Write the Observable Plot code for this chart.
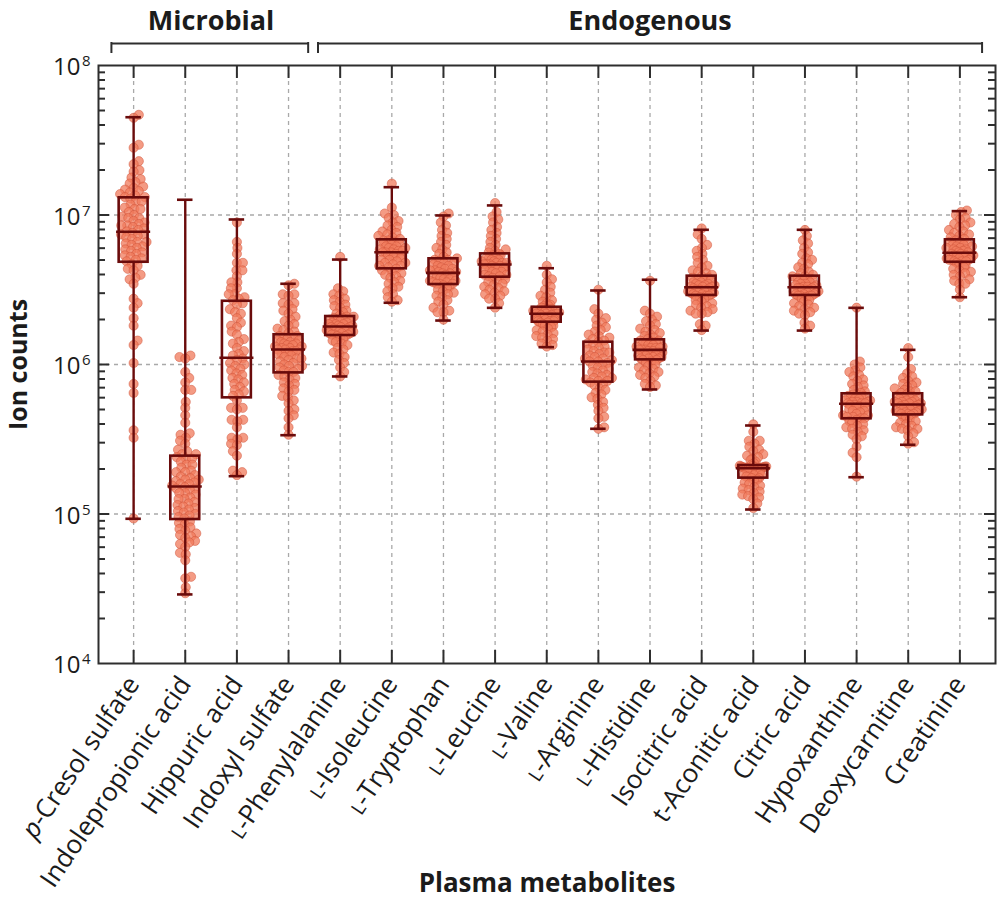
<!DOCTYPE html>
<html>
<head>
<meta charset="utf-8">
<script src="https://cdn.jsdelivr.net/npm/d3@7"></script>
<script src="https://cdn.jsdelivr.net/npm/@observablehq/plot@0.6"></script>
<style>
  html, body { margin: 0; padding: 0; background: #ffffff; }
  #chart { width: 1000px; height: 903px; }
</style>
</head>
<body>
<div id="chart"></div>
<script>
// ---------------- data (log10 of ion counts) ----------------
const metabolites = [
  "p-Cresol sulfate", "Indolepropionic acid", "Hippuric acid", "Indoxyl sulfate",
  "L-Phenylalanine", "L-Isoleucine", "L-Tryptophan", "L-Leucine", "L-Valine",
  "L-Arginine", "L-Histidine", "Isocitric acid", "t-Aconitic acid", "Citric acid",
  "Hypoxanthine", "Deoxycarnitine", "Creatinine"
];
const groupLabels = ["Microbial", "Endogenous"];
const groupFirst = [0, 4];
const groupLast = [3, 16];

const yTickExponents = [4, 5, 6, 7, 8];

// box statistics (log10 ion counts)
const whiskerHigh   = [7.654, 7.102, 6.970, 6.540, 6.702, 7.186, 6.997, 7.064, 6.644, 6.495, 6.567, 6.901, 5.592, 6.901, 6.379, 6.098, 7.026];
const upperQuartile = [7.115, 5.387, 6.423, 6.199, 6.321, 6.834, 6.707, 6.740, 6.383, 6.149, 6.165, 6.591, 5.324, 6.591, 5.804, 5.804, 6.834];
const medianValue   = [6.888, 5.184, 6.045, 6.100, 6.254, 6.751, 6.613, 6.669, 6.339, 6.020, 6.098, 6.517, 5.306, 6.517, 5.737, 5.732, 6.747];
const lowerQuartile = [6.684, 4.963, 5.777, 5.944, 6.194, 6.640, 6.535, 6.584, 6.283, 5.882, 6.031, 6.462, 5.240, 6.462, 5.637, 5.663, 6.684];
const whiskerLow    = [4.968, 4.462, 5.253, 5.527, 5.920, 6.413, 6.294, 6.379, 6.116, 5.570, 5.833, 6.227, 5.030, 6.227, 5.246, 5.463, 6.450];

// individual samples (log10 ion counts)
const pCresolSulfate = [7.67, 7.65, 7.47, 7.45, 7.36, 7.34, 7.30, 7.29, 7.25, 7.24, 7.22, 7.21, 7.19, 7.18, 7.17, 7.16, 7.15, 7.14, 7.13, 7.12, 7.12,
  7.11, 7.09, 7.09, 7.07, 7.05, 7.04, 7.04, 7.02, 7.00, 6.99, 6.98, 6.98, 6.96, 6.95, 6.94, 6.93, 6.93, 6.92, 6.91, 6.90, 6.89,
  6.88, 6.87, 6.87, 6.86, 6.85, 6.84, 6.82, 6.82, 6.81, 6.80, 6.79, 6.78, 6.77, 6.76, 6.75, 6.74, 6.73, 6.72, 6.71, 6.70, 6.69,
  6.67, 6.66, 6.64, 6.63, 6.60, 6.58, 6.57, 6.54, 6.44, 6.41, 6.38, 6.31, 6.26, 6.16, 6.13, 6.01, 5.87, 5.81, 5.56, 5.51, 4.97];
const indolepropionicAcid = [6.06, 6.05, 6.04, 5.95, 5.91, 5.88, 5.83, 5.83, 5.75, 5.71, 5.66, 5.61, 5.54, 5.53, 5.51, 5.49, 5.47, 5.43, 5.42, 5.40, 5.40,
  5.38, 5.37, 5.37, 5.35, 5.33, 5.33, 5.31, 5.29, 5.28, 5.28, 5.26, 5.25, 5.24, 5.23, 5.23, 5.22, 5.21, 5.20, 5.20, 5.19, 5.18,
  5.17, 5.17, 5.16, 5.14, 5.14, 5.13, 5.11, 5.10, 5.10, 5.08, 5.07, 5.06, 5.05, 5.04, 5.03, 5.02, 5.01, 5.00, 4.99, 4.98, 4.97,
  4.95, 4.94, 4.93, 4.91, 4.90, 4.89, 4.87, 4.86, 4.85, 4.84, 4.82, 4.81, 4.80, 4.78, 4.74, 4.73, 4.69, 4.58, 4.57, 4.51, 4.47];
const hippuricAcid = [6.95, 6.82, 6.78, 6.74, 6.68, 6.68, 6.63, 6.63, 6.59, 6.55, 6.55, 6.51, 6.51, 6.47, 6.47, 6.45, 6.44, 6.43,
  6.41, 6.40, 6.37, 6.35, 6.34, 6.31, 6.28, 6.26, 6.25, 6.22, 6.20, 6.17, 6.15, 6.14, 6.11, 6.09, 6.07, 6.06,
  6.04, 6.03, 6.01, 6.00, 5.99, 5.97, 5.96, 5.94, 5.93, 5.91, 5.90, 5.88, 5.87, 5.85, 5.83, 5.82, 5.80, 5.79,
  5.76, 5.71, 5.71, 5.70, 5.63, 5.63, 5.62, 5.58, 5.51, 5.51, 5.50, 5.47, 5.46, 5.42, 5.39, 5.29, 5.28, 5.26];
const indoxylSulfate = [6.54, 6.53, 6.47, 6.47, 6.46, 6.41, 6.41, 6.40, 6.37, 6.36, 6.34, 6.32, 6.30, 6.29, 6.27, 6.26, 6.24, 6.23, 6.22, 6.21,
  6.19, 6.19, 6.18, 6.18, 6.17, 6.16, 6.16, 6.15, 6.15, 6.14, 6.14, 6.13, 6.13, 6.12, 6.12, 6.11, 6.11, 6.10, 6.10, 6.10,
  6.09, 6.09, 6.08, 6.07, 6.07, 6.06, 6.05, 6.04, 6.04, 6.03, 6.02, 6.01, 6.00, 5.99, 5.99, 5.98, 5.97, 5.96, 5.95, 5.95,
  5.93, 5.92, 5.91, 5.90, 5.88, 5.87, 5.86, 5.84, 5.83, 5.82, 5.79, 5.78, 5.76, 5.74, 5.70, 5.69, 5.66, 5.64, 5.58, 5.53];
const phenylalanine = [6.72, 6.51, 6.49, 6.47, 6.46, 6.44, 6.43, 6.42, 6.40, 6.39, 6.38, 6.36, 6.35, 6.34, 6.33, 6.32,
  6.32, 6.31, 6.31, 6.30, 6.30, 6.29, 6.29, 6.28, 6.28, 6.27, 6.27, 6.27, 6.26, 6.26, 6.25, 6.25,
  6.25, 6.24, 6.24, 6.23, 6.23, 6.23, 6.22, 6.22, 6.21, 6.21, 6.21, 6.20, 6.20, 6.20, 6.19, 6.19,
  6.18, 6.17, 6.16, 6.15, 6.14, 6.13, 6.11, 6.10, 6.08, 6.07, 6.05, 6.03, 6.01, 5.98, 5.95, 5.92];
const isoleucine = [7.21, 7.05, 7.01, 7.00, 6.98, 6.96, 6.95, 6.93, 6.92, 6.90, 6.89, 6.88, 6.87, 6.86, 6.85, 6.84,
  6.83, 6.83, 6.82, 6.81, 6.81, 6.80, 6.79, 6.79, 6.78, 6.78, 6.77, 6.77, 6.76, 6.76, 6.75, 6.75,
  6.75, 6.74, 6.73, 6.73, 6.72, 6.71, 6.70, 6.70, 6.69, 6.68, 6.68, 6.67, 6.66, 6.66, 6.65, 6.64,
  6.63, 6.62, 6.61, 6.60, 6.59, 6.58, 6.56, 6.55, 6.54, 6.52, 6.51, 6.49, 6.47, 6.45, 6.43, 6.42];
const tryptophan = [7.01, 6.99, 6.95, 6.93, 6.90, 6.88, 6.86, 6.84, 6.82, 6.80, 6.78, 6.77, 6.75, 6.74, 6.72, 6.71,
  6.70, 6.70, 6.69, 6.68, 6.68, 6.67, 6.66, 6.66, 6.65, 6.64, 6.64, 6.63, 6.63, 6.62, 6.62, 6.61,
  6.61, 6.60, 6.60, 6.59, 6.59, 6.58, 6.57, 6.57, 6.56, 6.56, 6.55, 6.55, 6.54, 6.54, 6.54, 6.53,
  6.52, 6.51, 6.50, 6.49, 6.48, 6.47, 6.46, 6.45, 6.43, 6.42, 6.40, 6.38, 6.36, 6.35, 6.35, 6.30];
const leucine = [7.08, 7.02, 6.99, 6.97, 6.95, 6.92, 6.90, 6.88, 6.86, 6.84, 6.82, 6.80, 6.78, 6.77, 6.76, 6.75,
  6.74, 6.73, 6.73, 6.72, 6.71, 6.71, 6.70, 6.70, 6.69, 6.69, 6.68, 6.68, 6.68, 6.67, 6.67, 6.67,
  6.66, 6.66, 6.65, 6.65, 6.64, 6.64, 6.63, 6.63, 6.62, 6.62, 6.61, 6.60, 6.60, 6.59, 6.59, 6.58,
  6.57, 6.56, 6.55, 6.54, 6.53, 6.52, 6.51, 6.50, 6.49, 6.48, 6.47, 6.46, 6.44, 6.44, 6.41, 6.38];
const valine = [6.66, 6.60, 6.57, 6.55, 6.52, 6.50, 6.48, 6.46, 6.45, 6.43, 6.42, 6.41, 6.40, 6.39, 6.39, 6.38,
  6.38, 6.37, 6.37, 6.36, 6.36, 6.36, 6.35, 6.35, 6.35, 6.35, 6.34, 6.34, 6.34, 6.34, 6.34, 6.34,
  6.33, 6.33, 6.32, 6.32, 6.32, 6.31, 6.31, 6.31, 6.30, 6.30, 6.30, 6.29, 6.29, 6.29, 6.28, 6.28,
  6.27, 6.26, 6.26, 6.25, 6.24, 6.23, 6.22, 6.21, 6.20, 6.19, 6.18, 6.17, 6.16, 6.14, 6.13, 6.12];
const arginine = [6.50, 6.37, 6.34, 6.31, 6.30, 6.28, 6.26, 6.25, 6.23, 6.22, 6.20, 6.19, 6.18, 6.17, 6.16, 6.15,
  6.14, 6.13, 6.12, 6.11, 6.10, 6.09, 6.08, 6.08, 6.07, 6.06, 6.05, 6.04, 6.04, 6.03, 6.02, 6.02,
  6.01, 6.00, 5.99, 5.98, 5.97, 5.96, 5.95, 5.94, 5.93, 5.92, 5.91, 5.91, 5.90, 5.89, 5.89, 5.88,
  5.87, 5.86, 5.84, 5.83, 5.81, 5.80, 5.78, 5.77, 5.75, 5.73, 5.71, 5.69, 5.65, 5.64, 5.58, 5.57];
const histidine = [6.56, 6.36, 6.34, 6.32, 6.30, 6.29, 6.27, 6.26, 6.24, 6.23, 6.22, 6.21, 6.20, 6.19, 6.18, 6.17,
  6.16, 6.16, 6.15, 6.15, 6.14, 6.14, 6.13, 6.13, 6.12, 6.12, 6.11, 6.11, 6.11, 6.10, 6.10, 6.10,
  6.09, 6.09, 6.08, 6.08, 6.07, 6.07, 6.07, 6.06, 6.06, 6.05, 6.05, 6.04, 6.04, 6.04, 6.03, 6.03,
  6.02, 6.01, 6.00, 5.99, 5.98, 5.97, 5.96, 5.95, 5.94, 5.93, 5.92, 5.91, 5.89, 5.87, 5.86, 5.85];
const isocitricAcid = [6.91, 6.87, 6.84, 6.80, 6.78, 6.76, 6.74, 6.72, 6.70, 6.68, 6.66, 6.65, 6.63, 6.62, 6.61, 6.60,
  6.59, 6.58, 6.58, 6.57, 6.56, 6.56, 6.55, 6.55, 6.54, 6.54, 6.53, 6.53, 6.53, 6.52, 6.52, 6.52,
  6.51, 6.51, 6.50, 6.50, 6.50, 6.49, 6.49, 6.48, 6.48, 6.48, 6.47, 6.47, 6.47, 6.46, 6.46, 6.46,
  6.45, 6.44, 6.43, 6.42, 6.41, 6.40, 6.39, 6.38, 6.37, 6.36, 6.35, 6.34, 6.34, 6.27, 6.26, 6.23];
const tAconiticAcid = [5.60, 5.55, 5.49, 5.49, 5.47, 5.45, 5.43, 5.42, 5.40, 5.39, 5.38, 5.37, 5.36, 5.35, 5.34, 5.33,
  5.323, 5.322, 5.318, 5.317, 5.316, 5.314, 5.313, 5.313, 5.311, 5.310, 5.310, 5.309, 5.308, 5.308, 5.307, 5.306,
  5.30, 5.30, 5.29, 5.29, 5.28, 5.28, 5.28, 5.27, 5.27, 5.26, 5.26, 5.26, 5.25, 5.25, 5.24, 5.24,
  5.23, 5.22, 5.21, 5.20, 5.19, 5.18, 5.17, 5.16, 5.15, 5.14, 5.13, 5.12, 5.11, 5.10, 5.07, 5.04];
const citricAcid = [6.90, 6.86, 6.83, 6.81, 6.78, 6.75, 6.74, 6.71, 6.70, 6.68, 6.67, 6.65, 6.64, 6.62, 6.61, 6.60,
  6.59, 6.59, 6.58, 6.57, 6.57, 6.56, 6.55, 6.55, 6.54, 6.54, 6.53, 6.53, 6.52, 6.52, 6.52, 6.51,
  6.51, 6.51, 6.50, 6.50, 6.49, 6.49, 6.49, 6.48, 6.48, 6.47, 6.47, 6.47, 6.46, 6.46, 6.46, 6.46,
  6.45, 6.44, 6.43, 6.42, 6.41, 6.40, 6.39, 6.38, 6.37, 6.36, 6.35, 6.34, 6.33, 6.28, 6.26, 6.24];
const hypoxanthine = [6.38, 6.02, 6.00, 5.98, 5.96, 5.95, 5.93, 5.92, 5.90, 5.89, 5.87, 5.86, 5.85, 5.83, 5.82, 5.81,
  5.80, 5.80, 5.79, 5.79, 5.78, 5.78, 5.77, 5.77, 5.76, 5.76, 5.75, 5.75, 5.75, 5.74, 5.74, 5.74,
  5.73, 5.73, 5.72, 5.71, 5.71, 5.70, 5.69, 5.69, 5.68, 5.67, 5.66, 5.66, 5.65, 5.65, 5.64, 5.64,
  5.63, 5.62, 5.61, 5.60, 5.59, 5.58, 5.57, 5.56, 5.55, 5.53, 5.52, 5.50, 5.45, 5.41, 5.38, 5.25];
const deoxycarnitine = [6.11, 6.05, 5.97, 5.94, 5.92, 5.91, 5.89, 5.88, 5.87, 5.86, 5.85, 5.84, 5.83, 5.82, 5.82, 5.81,
  5.80, 5.79, 5.79, 5.78, 5.78, 5.77, 5.77, 5.76, 5.76, 5.75, 5.75, 5.75, 5.74, 5.74, 5.74, 5.73,
  5.73, 5.72, 5.72, 5.71, 5.71, 5.70, 5.70, 5.70, 5.69, 5.69, 5.68, 5.68, 5.68, 5.67, 5.67, 5.67,
  5.66, 5.65, 5.64, 5.63, 5.62, 5.61, 5.60, 5.59, 5.58, 5.57, 5.57, 5.56, 5.54, 5.52, 5.48, 5.47];
const creatinine = [7.03, 7.02, 7.00, 6.98, 6.97, 6.95, 6.94, 6.93, 6.92, 6.90, 6.89, 6.88, 6.87, 6.86, 6.85, 6.84,
  6.83, 6.82, 6.82, 6.81, 6.80, 6.80, 6.79, 6.79, 6.78, 6.78, 6.77, 6.77, 6.76, 6.76, 6.75, 6.75,
  6.74, 6.74, 6.73, 6.73, 6.73, 6.72, 6.72, 6.71, 6.71, 6.71, 6.70, 6.70, 6.70, 6.69, 6.69, 6.69,
  6.68, 6.67, 6.66, 6.65, 6.64, 6.63, 6.62, 6.61, 6.60, 6.59, 6.57, 6.56, 6.54, 6.54, 6.50, 6.45];

const samples = [pCresolSulfate, indolepropionicAcid, hippuricAcid, indoxylSulfate, phenylalanine,
  isoleucine, tryptophan, leucine, valine, arginine, histidine, isocitricAcid, tAconiticAcid,
  citricAcid, hypoxanthine, deoxycarnitine, creatinine];

// ---------------- layout ----------------
const W = 1000, H = 903;
const ML = 98, MR = 5, MT = 65, MB = 240;
const xDomain = [-0.68, 16.69];
const yDomain = [1e4, 1e8];
const pxPerIndex = (W - ML - MR) / (xDomain[1] - xDomain[0]);
const pxPerDecade = (H - MT - MB) / Math.log10(yDomain[1] / yDomain[0]);

const dark = "#6a0b0b";
const gridColor = "#a9a9a9";
const frameColor = "#2e2e2e";
const textColor = "#1b1b1b";

// beeswarm offsets (pixel collision), squeezed locally so each row fits the swarm width
const gap = 6, maxHalfWidth = 13.5, rowWindow = 7;
function swarmOffsets(vals) {
  const order = d3.range(vals.length).sort((a, b) => vals[a] - vals[b]);
  const placed = [];
  const out = new Array(vals.length).fill(0);
  const ys = vals.map(v => v * pxPerDecade);
  order.forEach((idx, n) => {
    const y = ys[idx];
    const near = placed.filter(p => Math.abs(p.y - y) < gap);
    const cands = [0];
    for (const p of near) {
      const dx = Math.sqrt(gap * gap - (p.y - y) ** 2);
      cands.push(p.x + dx, p.x - dx);
    }
    const side = n % 2 ? 1 : -1;
    cands.sort((a, b) => Math.abs(a) - Math.abs(b) || side * (b - a));
    const ok = cands.find(c => near.every(p => (p.x - c) ** 2 + (p.y - y) ** 2 >= gap * gap - 1e-6));
    out[idx] = ok === undefined ? 0 : ok;
    placed.push({x: out[idx], y});
  });
  return out.map((o, i) => {
    let localMax = 0;
    for (let j = 0; j < out.length; j++) {
      if (Math.abs(ys[j] - ys[i]) < rowWindow) localMax = Math.max(localMax, Math.abs(out[j]));
    }
    const k = localMax > maxHalfWidth ? maxHalfWidth / localMax : 1;
    return o * k / pxPerIndex;
  });
}

const points = samples.flatMap((vals, i) => {
  const off = swarmOffsets(vals);
  return vals.map((v, j) => ({i, x: i + off[j], y: 10 ** v}));
});

const boxes = metabolites.map((name, i) => ({
  i, name,
  lo: 10 ** whiskerLow[i], q1: 10 ** lowerQuartile[i], med: 10 ** medianValue[i],
  q3: 10 ** upperQuartile[i], hi: 10 ** whiskerHigh[i]
}));

const groups = groupLabels.map((label, g) => ({label, from: groupFirst[g], to: groupLast[g]}));
const bracketLeft = g => g.from - 0.43;
const bracketRight = g => g.to + (g.to === metabolites.length - 1 ? 0.43 : 0.38);
const bracketEnds = groups.flatMap(g => [bracketLeft(g), bracketRight(g)]);

const indices = d3.range(metabolites.length);
const majorY = [1e5, 1e6, 1e7];
const minorY = d3.range(4, 8).flatMap(e => d3.range(2, 10).map(k => k * 10 ** e));

const boxHalf = 0.28, medHalf = 0.33, capHalf = 0.15;

const plot = Plot.plot({
  width: W, height: H,
  marginLeft: ML, marginRight: MR, marginTop: MT, marginBottom: MB,
  style: {fontFamily: "'Open Sans', 'Noto Sans', sans-serif", color: textColor, background: "#ffffff", overflow: "visible"},
  x: {domain: xDomain, axis: null},
  y: {type: "log", domain: yDomain, axis: null},
  marks: [
    // grid
    Plot.ruleY(majorY, {y: d => d, stroke: gridColor, strokeWidth: 1.3, strokeDasharray: "4,4"}),
    Plot.ruleX(indices, {x: d => d, stroke: gridColor, strokeWidth: 1.3, strokeDasharray: "4,4"}),
    // samples
    Plot.dot(points, {x: "x", y: "y", r: 4.6, fill: "#f07b5d", fillOpacity: 0.76,
      stroke: "#cf5036", strokeOpacity: 0.6, strokeWidth: 0.8}),
    // whiskers
    Plot.ruleX(boxes, {x: "i", y1: "q3", y2: "hi", stroke: dark, strokeWidth: 2.4}),
    Plot.ruleX(boxes, {x: "i", y1: "lo", y2: "q1", stroke: dark, strokeWidth: 2.4}),
    Plot.ruleY(boxes, {y: "hi", x1: d => d.i - capHalf, x2: d => d.i + capHalf, stroke: dark, strokeWidth: 2.6}),
    Plot.ruleY(boxes, {y: "lo", x1: d => d.i - capHalf, x2: d => d.i + capHalf, stroke: dark, strokeWidth: 2.6}),
    // boxes
    Plot.rect(boxes, {x1: d => d.i - boxHalf, x2: d => d.i + boxHalf, y1: "q1", y2: "q3",
      fill: "none", stroke: dark, strokeWidth: 2.6}),
    Plot.ruleY(boxes, {y: "med", x1: d => d.i - medHalf, x2: d => d.i + medHalf, stroke: dark, strokeWidth: 2.6}),
    // frame
    Plot.frame({stroke: frameColor, strokeWidth: 2}),
    // inward ticks: left / right
    Plot.ruleY(majorY, {y: d => d, x1: () => xDomain[0], x2: () => xDomain[0], insetRight: -11, stroke: frameColor, strokeWidth: 2}),
    Plot.ruleY(minorY, {y: d => d, x1: () => xDomain[0], x2: () => xDomain[0], insetRight: -7, stroke: frameColor, strokeWidth: 2}),
    Plot.ruleY(majorY, {y: d => d, x1: () => xDomain[1], x2: () => xDomain[1], insetLeft: -11, stroke: frameColor, strokeWidth: 2}),
    Plot.ruleY(minorY, {y: d => d, x1: () => xDomain[1], x2: () => xDomain[1], insetLeft: -7, stroke: frameColor, strokeWidth: 2}),
    // inward ticks: top / bottom
    Plot.ruleX(indices, {x: d => d, y1: () => yDomain[1], y2: () => yDomain[1], insetBottom: -13, stroke: frameColor, strokeWidth: 2}),
    Plot.ruleX(indices, {x: d => d, y1: () => yDomain[0], y2: () => yDomain[0], insetTop: -13, stroke: frameColor, strokeWidth: 2}),
    // y tick labels 10^n
    Plot.text(yTickExponents, {y: d => 10 ** d, text: () => "10", frameAnchor: "left", textAnchor: "end",
      lineAnchor: "middle", dx: -18, dy: 2, fontSize: 24, fill: textColor}),
    Plot.text(yTickExponents, {y: d => 10 ** d, text: d => String(d), frameAnchor: "left", textAnchor: "end",
      lineAnchor: "middle", dx: -8, dy: -4, fontSize: 15, fill: textColor}),
    // x tick labels
    Plot.text(metabolites, {x: (d, i) => i, text: d => d, frameAnchor: "bottom", textAnchor: "end",
      lineAnchor: "middle", rotate: -56, dx: 0, dy: 16, fontSize: 26, fill: textColor}),
    // axis titles
    Plot.text(["Ion counts"], {frameAnchor: "left", textAnchor: "middle", lineAnchor: "middle", rotate: -90,
      dx: -80, fontSize: 25, fontWeight: "bold", fill: textColor}),
    Plot.text(["Plasma metabolites"], {frameAnchor: "bottom", textAnchor: "middle", lineAnchor: "middle",
      dy: 220, fontSize: 26, fontWeight: "bold", fill: textColor}),
    // group brackets and titles
    Plot.link(groups, {x1: bracketLeft, x2: bracketRight,
      y1: () => yDomain[1], y2: () => yDomain[1], dy: -22, stroke: frameColor, strokeWidth: 2}),
    Plot.ruleX(bracketEnds, {x: d => d, y1: () => yDomain[1], y2: () => yDomain[1], insetTop: -23, insetBottom: 12,
      stroke: frameColor, strokeWidth: 2}),
    Plot.text(groups, {x: d => (d.from + d.to) / 2, text: "label", frameAnchor: "top", textAnchor: "middle",
      lineAnchor: "middle", dy: -44, fontSize: 27, fontWeight: "bold", fill: textColor})
  ]
});

document.getElementById("chart").appendChild(plot);

// typographic touches: small-capital L and italic p in tick labels
d3.select(plot).selectAll("text").each(function () {
  const t = this.textContent;
  if (!metabolites.includes(t)) return;
  const sel = d3.select(this);
  if (t.startsWith("L-")) {
    sel.text(null);
    sel.append("tspan").attr("font-size", "0.74em").text("L");
    sel.append("tspan").text(t.slice(1));
  } else if (t.startsWith("p-")) {
    sel.text(null);
    sel.append("tspan").attr("font-style", "italic").text("p");
    sel.append("tspan").text(t.slice(1));
  }
});
</script>
</body>
</html>
